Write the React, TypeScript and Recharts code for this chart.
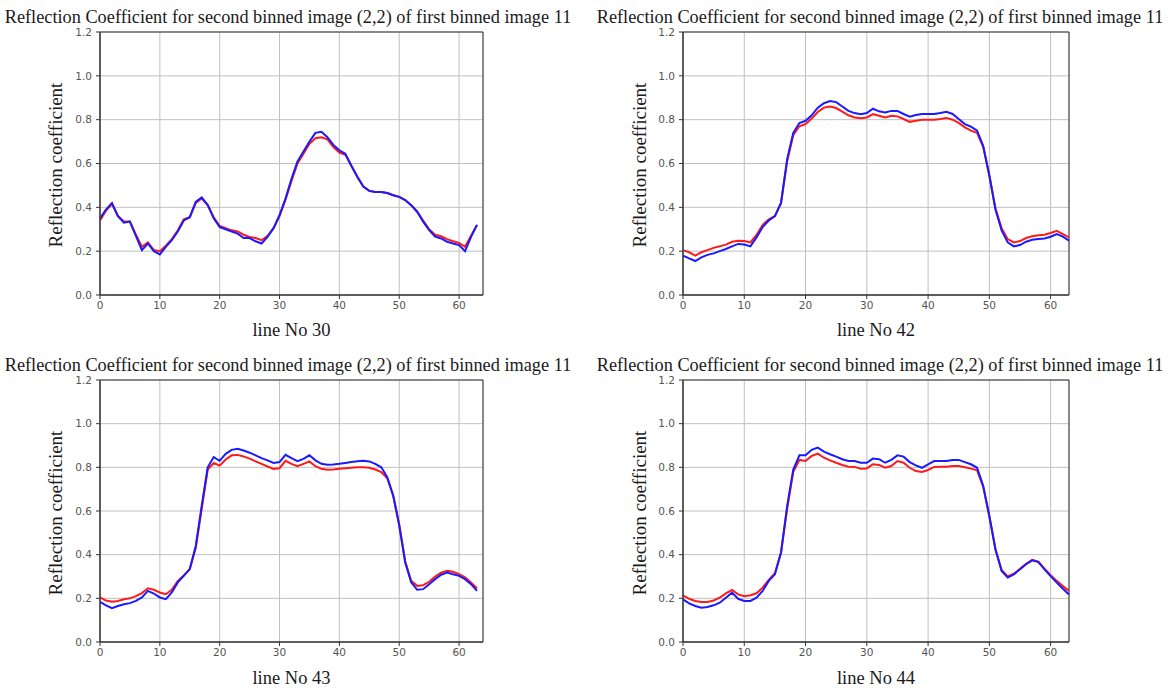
import React from 'react';
import { LineChart, Line, XAxis, YAxis, CartesianGrid, ReferenceArea } from 'recharts';

const TITLE = 'Reflection Coefficient for second binned image (2,2) of first binned image 11';
const Y_LABEL = 'Reflection coefficient';
const X_TICKS = [0, 10, 20, 30, 40, 50, 60];
const Y_TICKS = [0, 0.2, 0.4, 0.6, 0.8, 1.0, 1.2];

// line No 30
const line30Red = [
  0.34, 0.385, 0.415, 0.36, 0.335, 0.335, 0.275, 0.22, 0.24, 0.205,
  0.2, 0.225, 0.255, 0.295, 0.345, 0.355, 0.42, 0.44, 0.41, 0.355,
  0.315, 0.305, 0.295, 0.29, 0.275, 0.265, 0.26, 0.25, 0.27, 0.305,
  0.36, 0.435, 0.52, 0.6, 0.645, 0.69, 0.715, 0.72, 0.71, 0.675,
  0.65, 0.64, 0.59, 0.54, 0.495, 0.475, 0.47, 0.47, 0.465, 0.455,
  0.448, 0.433, 0.41, 0.38, 0.34, 0.3, 0.275, 0.268, 0.255, 0.245,
  0.238, 0.22, 0.27, 0.32,
];
const line30Blue = [
  0.35, 0.39, 0.42, 0.36, 0.33, 0.335, 0.27, 0.205, 0.235, 0.2,
  0.185, 0.22, 0.25, 0.29, 0.34, 0.355, 0.425, 0.445, 0.41, 0.35,
  0.31, 0.3, 0.29, 0.28, 0.26, 0.26, 0.245, 0.235, 0.265, 0.305,
  0.365, 0.44, 0.53, 0.61, 0.655, 0.7, 0.74, 0.745, 0.72, 0.685,
  0.66, 0.645, 0.59, 0.54, 0.495, 0.475, 0.47, 0.47, 0.465, 0.455,
  0.448, 0.433, 0.41, 0.38, 0.335, 0.296, 0.266, 0.258, 0.243, 0.235,
  0.228, 0.2, 0.265, 0.32,
];

// line No 42
const line42Red = [
  0.205, 0.195, 0.18, 0.195, 0.205, 0.215, 0.222, 0.23, 0.243, 0.248,
  0.246, 0.24, 0.274, 0.32, 0.345, 0.36, 0.42, 0.61, 0.73, 0.77,
  0.78, 0.805, 0.835, 0.855, 0.86, 0.853, 0.837, 0.82, 0.81, 0.806,
  0.81, 0.825, 0.818, 0.81, 0.818, 0.815, 0.803, 0.79, 0.795, 0.8,
  0.8, 0.8, 0.803, 0.808, 0.8, 0.785, 0.765, 0.75, 0.74, 0.675,
  0.545, 0.395, 0.305, 0.255, 0.24, 0.246, 0.26, 0.268, 0.273, 0.275,
  0.283, 0.293, 0.278, 0.263,
];
const line42Blue = [
  0.18, 0.167, 0.155, 0.172, 0.183, 0.19, 0.2, 0.21, 0.222, 0.233,
  0.23, 0.222, 0.263, 0.31, 0.34, 0.36, 0.42, 0.62, 0.74, 0.785,
  0.795, 0.82, 0.855, 0.875, 0.885, 0.88, 0.86, 0.84, 0.83, 0.825,
  0.83, 0.85, 0.838, 0.833, 0.84, 0.84, 0.826, 0.814, 0.821, 0.826,
  0.826, 0.826, 0.83, 0.836, 0.826, 0.803, 0.78, 0.768, 0.75, 0.68,
  0.545, 0.39, 0.295, 0.24, 0.222, 0.228, 0.243, 0.252, 0.255, 0.258,
  0.266, 0.278, 0.266, 0.248,
];

// line No 43
const line43Red = [
  0.204, 0.19, 0.184, 0.188, 0.196, 0.2, 0.21, 0.224, 0.246, 0.239,
  0.227, 0.219, 0.239, 0.28, 0.305, 0.334, 0.43, 0.61, 0.79, 0.82,
  0.808, 0.836, 0.855, 0.857, 0.85, 0.84, 0.827, 0.816, 0.804, 0.793,
  0.796, 0.83, 0.816, 0.805, 0.816, 0.827, 0.805, 0.793, 0.789, 0.79,
  0.793, 0.796, 0.798, 0.8, 0.8, 0.798, 0.79, 0.778, 0.75, 0.67,
  0.54, 0.37, 0.28, 0.257, 0.26, 0.276, 0.3, 0.318, 0.326, 0.322,
  0.311, 0.296, 0.273, 0.245,
];
const line43Blue = [
  0.184, 0.168, 0.155, 0.165, 0.173, 0.178, 0.188, 0.204, 0.234, 0.222,
  0.204, 0.196, 0.227, 0.273, 0.303, 0.334, 0.44, 0.625, 0.8, 0.847,
  0.83, 0.862, 0.88, 0.885, 0.877, 0.867, 0.855, 0.842, 0.832, 0.82,
  0.824, 0.857, 0.842, 0.828, 0.839, 0.855, 0.832, 0.816, 0.812, 0.813,
  0.816, 0.82, 0.824, 0.828, 0.83, 0.827, 0.816, 0.8, 0.755, 0.67,
  0.533, 0.364, 0.273, 0.239, 0.242, 0.265, 0.288, 0.308, 0.318, 0.31,
  0.303, 0.288, 0.265, 0.234,
];

// line No 44
const line44Red = [
  0.214, 0.198, 0.188, 0.183, 0.183, 0.19, 0.203, 0.223, 0.238, 0.218,
  0.21, 0.214, 0.223, 0.249, 0.284, 0.315, 0.41, 0.61, 0.78, 0.834,
  0.829, 0.852, 0.863, 0.844, 0.832, 0.821, 0.811, 0.803, 0.802, 0.794,
  0.795, 0.814, 0.811, 0.798, 0.806, 0.829, 0.821, 0.798, 0.783, 0.779,
  0.788, 0.802, 0.803, 0.803, 0.806, 0.806, 0.8, 0.794, 0.786, 0.71,
  0.575, 0.425, 0.33, 0.3, 0.313, 0.335, 0.358, 0.376, 0.368, 0.336,
  0.306, 0.28, 0.256, 0.234,
];
const line44Blue = [
  0.195, 0.177, 0.165, 0.157, 0.16, 0.168, 0.18, 0.203, 0.226, 0.198,
  0.188, 0.188, 0.203, 0.234, 0.28, 0.31, 0.41, 0.623, 0.79, 0.855,
  0.855, 0.88, 0.89, 0.872, 0.86, 0.849, 0.837, 0.829, 0.829, 0.821,
  0.821, 0.84, 0.837, 0.821, 0.834, 0.855, 0.849, 0.824, 0.809, 0.798,
  0.814, 0.829, 0.829, 0.829, 0.834, 0.834, 0.824, 0.814, 0.798, 0.715,
  0.577, 0.424, 0.325, 0.295, 0.31, 0.333, 0.356, 0.374, 0.366, 0.333,
  0.302, 0.272, 0.244, 0.218,
];

const serif = '"Liberation Serif", "Times New Roman", serif';
const tickStyle = { fontFamily: '"DejaVu Sans", sans-serif', fontSize: 10.5, fill: '#555' };

type PanelProps = {
  left: number;
  top: number;
  width: number;
  height: number;
  plotLeft: number;
  plotRight: number;
  xMax: number;
  bottomPad: number;
  titleCenter: number;
  label: string;
  red: number[];
  blue: number[];
};

const Panel = ({ left, top, width, height, plotLeft, plotRight, xMax, bottomPad, titleCenter, label, red, blue }: PanelProps) => {
  const data = red.map((r, i) => ({ x: i, red: r, blue: blue[i] }));
  const plotCenter = (plotLeft + plotRight) / 2;

  return (
    <div style={{ position: 'absolute', left, top, width, height }}>
      <div
        style={{
          position: 'absolute', left: titleCenter - 300, width: 600, top: 6, textAlign: 'center',
          fontFamily: serif, fontSize: 18.3, lineHeight: '22px', color: '#1a1a1a', whiteSpace: 'nowrap',
        }}
      >
        {TITLE}
      </div>
      <div
        style={{
          position: 'absolute', left: 56, top: 165, transform: 'translate(-50%, -50%) rotate(-90deg)',
          fontFamily: serif, fontSize: 19, color: '#1a1a1a', whiteSpace: 'nowrap',
        }}
      >
        {Y_LABEL}
      </div>
      <div
        style={{
          position: 'absolute', left: plotCenter - 100, width: 200, top: 319, textAlign: 'center',
          fontFamily: serif, fontSize: 18.5, lineHeight: '22px', color: '#1a1a1a',
        }}
      >
        {label}
      </div>
      <LineChart
        width={width}
        height={height}
        data={data}
        margin={{ top: 32, right: width - plotRight, left: plotLeft - 40, bottom: bottomPad }}
      >
        <CartesianGrid stroke="#c0c0c0" strokeWidth={1} />
        <XAxis
          dataKey="x"
          type="number"
          domain={[0, xMax]}
          ticks={X_TICKS}
          height={30}
          tick={tickStyle}
          tickSize={4}
          tickMargin={3}
          stroke="#333"
        />
        <YAxis
          type="number"
          domain={[0, 1.2]}
          ticks={Y_TICKS}
          width={40}
          tick={tickStyle}
          tickSize={4}
          tickMargin={4}
          tickFormatter={(v: number) => v.toFixed(1)}
          stroke="#333"
        />
        {/* frame around the plot, like matplotlib spines */}
        <ReferenceArea x1={0} x2={xMax} y1={0} y2={1.2} fill="none" stroke="#333" strokeWidth={1} ifOverflow="visible" />
        <Line type="linear" dataKey="red" stroke="#ff1a1a" strokeWidth={2} dot={false} isAnimationActive={false} />
        <Line type="linear" dataKey="blue" stroke="#1a1aff" strokeWidth={2} dot={false} isAnimationActive={false} />
      </LineChart>
    </div>
  );
};

export default function App() {
  return (
    <div style={{ position: 'fixed', left: 0, top: 0, width: 1173, height: 688, background: '#fff', overflow: 'hidden' }}>
      <Panel left={0} top={0} width={584} height={340} plotLeft={100} plotRight={483} xMax={64} bottomPad={15}
        titleCenter={288} label="line No 30" red={line30Red} blue={line30Blue} />
      <Panel left={584} top={0} width={589} height={340} plotLeft={99} plotRight={485} xMax={63} bottomPad={15}
        titleCenter={296} label="line No 42" red={line42Red} blue={line42Blue} />
      <Panel left={0} top={348} width={584} height={340} plotLeft={100} plotRight={483} xMax={64} bottomPad={16}
        titleCenter={288} label="line No 43" red={line43Red} blue={line43Blue} />
      <Panel left={584} top={348} width={589} height={340} plotLeft={99} plotRight={485} xMax={63} bottomPad={16}
        titleCenter={296} label="line No 44" red={line44Red} blue={line44Blue} />
    </div>
  );
}
